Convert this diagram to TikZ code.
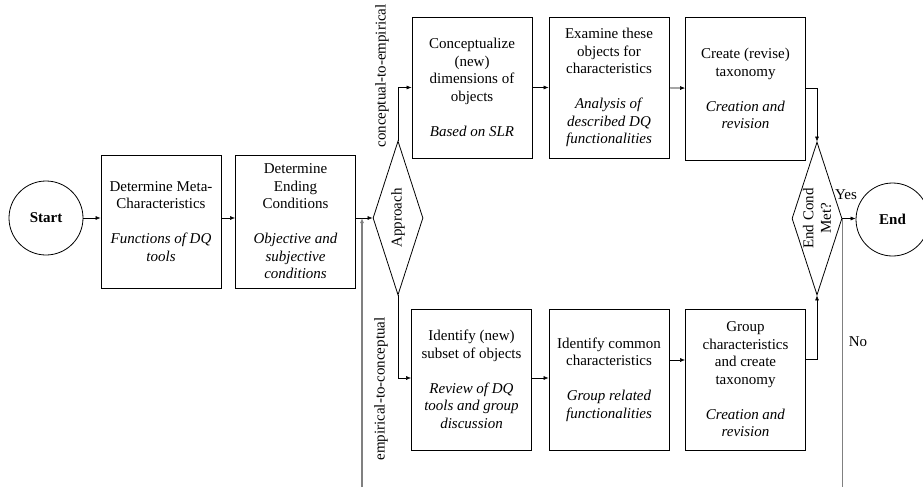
\documentclass[tikz,border=0pt]{standalone}
\usepackage{fontspec}
\setmainfont{Liberation Serif}
\usetikzlibrary{arrows.meta,shapes.geometric}
\definecolor{ink}{HTML}{000000}
\definecolor{loopline}{HTML}{808080}

\begin{document}
\begin{tikzpicture}[
  x=1pt, y=-1pt,
  font=\fontsize{15}{17.5}\selectfont,
  text=ink,
  box/.style={
    draw=ink,
    line width=0.8pt,
    align=center,
    inner sep=0pt,
    minimum width=120pt,
    minimum height=141pt
  },
  term/.style={
    circle,
    draw=ink,
    line width=0.8pt,
    inner sep=0pt,
    minimum size=74pt,
    font=\fontsize{15}{17.5}\selectfont\bfseries
  },
  decide/.style={
    diamond,
    draw=ink,
    line width=0.8pt,
    inner sep=0pt,
    minimum width=50pt,
    minimum height=154pt
  },
  arrow/.style={-{Latex[length=5pt,width=4pt]}, line width=0.6pt, draw=ink},
  loopback/.style={line width=1.4pt, draw=loopline},
  side/.style={rotate=90, align=center}
]
\useasboundingbox (0,0) rectangle (923,487);

\node[term] (start) at (46,218) {Start};
\node[box, minimum height=133pt] (meta) at (161,221.5) {Determine Meta-\\Characteristics\\[17.5pt]\textit{Functions of DQ}\\\textit{tools}};
\node[box, minimum height=133pt] (ending) at (295.5,221.5) {Determine\\Ending\\Conditions\\[17.5pt]\textit{Objective and}\\\textit{subjective}\\\textit{conditions}};

\node[decide] (appr) at (398,218) {};
\node[side] (apprtxt) at (appr) {Approach};

% upper branch
\node[side] (ctoe) at (382,76) {conceptual-to-empirical};
\node[box] (cone) at (472,87.5) {Conceptualize\\(new)\\dimensions of\\objects\\[17.5pt]\textit{Based on SLR}};
\node[box] (exam) at (609,87.5) {Examine these\\objects for\\characteristics\\[17.5pt]\textit{Analysis of}\\\textit{described DQ}\\\textit{functionalities}};
\node[box, minimum height=143pt] (crea) at (745.5,88.5) {Create (revise)\\taxonomy\\[17.5pt]\textit{Creation and}\\\textit{revision}};

% lower branch
\node[side] (etoc) at (381,389) {empirical-to-conceptual};
\node[box] (iden) at (471.5,379.5) {Identify (new)\\subset of objects\\[17.5pt]\textit{Review of DQ}\\\textit{tools and group}\\\textit{discussion}};
\node[box] (comm) at (609,379.5) {Identify common\\characteristics\\[17.5pt]\textit{Group related}\\\textit{functionalities}};
\node[box] (grp) at (745.5,379.5) {Group\\characteristics\\and create\\taxonomy\\[17.5pt]\textit{Creation and}\\\textit{revision}};

\node[decide, minimum height=153pt] (endd) at (817,218.5) {};
\node[side] (enddtxt) at (endd) {End Cond\\Met?};
\node[term, minimum size=73pt] (fin) at (892.5,219.5) {End};

\node (yes) at (846,195) {Yes};
\node (no) at (858,342) {No};

\coordinate (nobot) at (842,487);
\coordinate (backbot) at (362,487);

\draw[arrow] (start) -- (start -| meta.west);
\draw[arrow] (meta.east |- start) -- (ending.west |- start);
\draw[arrow] (ending.east |- appr) -- (appr.west);
\draw[arrow] (appr.north) |- (cone.west);
\draw[arrow] (appr.south) |- ([yshift=1.5pt]iden.west);
\draw[arrow] (cone) -- (exam);
\draw[arrow] (exam) -- (crea);
\draw[arrow] (crea.east) -| (endd.north);
\draw[arrow] ([yshift=1.5pt]iden.east) -- ([yshift=1.5pt]comm.west);
\draw[arrow] ([yshift=19.5pt]comm.east) -- ([yshift=19.5pt]grp.west);
\draw[arrow] ([yshift=20.5pt]grp.east) -| (endd.south);
\draw[arrow] (endd.east) -- (endd.east -| fin.west);
\draw[loopback] (endd.east) -- (endd.east |- nobot);
\draw[loopback, -{Latex[length=5pt,width=4pt]}] (backbot) -- (backbot |- appr.west);

\end{tikzpicture}
\end{document}
